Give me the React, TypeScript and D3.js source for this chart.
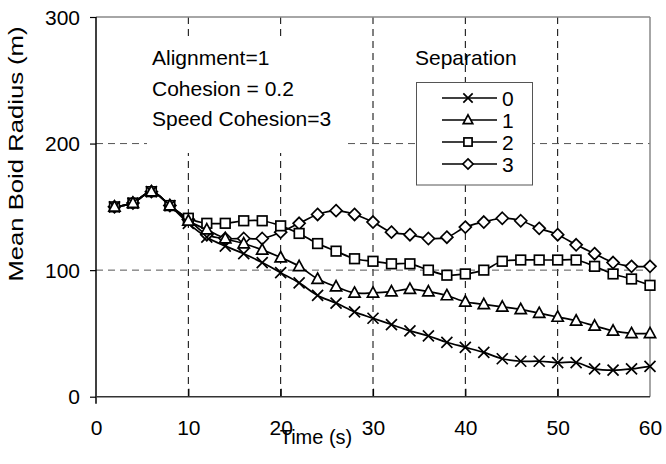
import React, { useEffect, useRef } from 'react'
import * as d3 from 'd3'

// time steps (s)
const time = [2, 4, 6, 8, 10, 12, 14, 16, 18, 20, 22, 24, 26, 28, 30, 32, 34, 36, 38, 40, 42, 44, 46, 48, 50, 52, 54, 56, 58, 60]
// mean boid radius (m) for each separation value
const sep0 = [150, 153, 162, 151, 137, 126, 119, 113, 106, 98, 90, 80, 74, 67, 62, 57, 52, 48, 43, 39, 35, 30, 28, 28, 27, 27, 22, 21, 22, 24]
const sep1 = [150, 153, 162, 151, 139, 132, 125, 121, 116, 110, 103, 93, 87, 82, 82, 83, 85, 83, 80, 75, 73, 71, 69, 66, 63, 60, 56, 52, 50, 50]
const sep2 = [150, 153, 162, 151, 141, 137, 137, 139, 139, 135, 129, 121, 115, 109, 107, 105, 105, 100, 96, 97, 100, 107, 108, 108, 108, 108, 103, 97, 93, 88]
const sep3 = [150, 153, 162, 151, 140, 128, 125, 125, 125, 130, 137, 144, 147, 144, 138, 130, 128, 125, 126, 134, 138, 141, 139, 133, 128, 120, 113, 106, 103, 103]

const seriesNames = ['0', '1', '2', '3']
const markerTypes = ['cross', 'triangle', 'square', 'diamond']
const xTicks = [0, 10, 20, 30, 40, 50, 60]
const yTicks = [0, 100, 200, 300]
const notes = ['Alignment=1', 'Cohesion = 0.2', 'Speed Cohesion=3']

const FONT = 'Arial, "Liberation Sans", sans-serif'

function drawMarker(g: any, type: string, cx: number, cy: number, k = 1) {
  const sw = 1.7
  if (type === 'cross') {
    const s = 5.5 * k
    g.append('path')
      .attr('d', `M${cx - s},${cy - s}L${cx + s},${cy + s}M${cx - s},${cy + s}L${cx + s},${cy - s}`)
      .attr('stroke', '#000').attr('stroke-width', sw).attr('fill', 'none')
    return
  }
  let el
  if (type === 'triangle') {
    el = g.append('path')
      .attr('d', `M${cx},${cy - 6 * k}L${cx + 5.6 * k},${cy + 4.3 * k}L${cx - 5.6 * k},${cy + 4.3 * k}Z`)
  } else if (type === 'square') {
    const s = 4.8 * k
    el = g.append('rect').attr('x', cx - s).attr('y', cy - s).attr('width', 2 * s).attr('height', 2 * s)
  } else {
    const s = 6 * k
    el = g.append('path')
      .attr('d', `M${cx},${cy - s}L${cx + s},${cy}L${cx},${cy + s}L${cx - s},${cy}Z`)
  }
  el.attr('stroke', '#000').attr('stroke-width', sw).attr('fill', '#fff')
}

export default function App() {
  const ref = useRef<SVGSVGElement>(null)

  useEffect(() => {
    const svg = d3.select(ref.current)
    svg.selectAll('*').remove()

    const x = d3.scaleLinear().domain([0, 60]).range([96, 650])
    const y = d3.scaleLinear().domain([0, 300]).range([396.7, 17])

    // gridlines
    svg.append('g').selectAll('line')
      .data([10, 20, 30, 40, 50])
      .enter().append('line')
      .attr('x1', d => x(d)).attr('x2', d => x(d))
      .attr('y1', y(300)).attr('y2', y(0))
      .attr('stroke', '#000').attr('stroke-width', 1).attr('stroke-dasharray', '7,5')
    svg.append('g').selectAll('line')
      .data([100, 200])
      .enter().append('line')
      .attr('x1', x(0)).attr('x2', x(60))
      .attr('y1', d => y(d)).attr('y2', d => y(d))
      .attr('stroke', '#555').attr('stroke-width', 1).attr('stroke-dasharray', '7,5')

    // frame: gray top/right, black axes
    svg.append('line').attr('x1', x(0)).attr('x2', x(60)).attr('y1', y(300)).attr('y2', y(300))
      .attr('stroke', '#888').attr('stroke-width', 1.5)
    svg.append('line').attr('x1', x(60)).attr('x2', x(60)).attr('y1', y(300)).attr('y2', y(0))
      .attr('stroke', '#888').attr('stroke-width', 1.5)

    // y axis
    const gy = svg.append('g')
      .attr('transform', `translate(${x(0)},0)`)
      .call(d3.axisLeft(y).tickValues(yTicks).tickSize(6).tickPadding(10).tickFormat(d3.format('d')))
    gy.select('.domain').remove()
    gy.selectAll('line').attr('stroke', '#000').attr('stroke-width', 1.2)
    gy.selectAll('text').attr('font-family', FONT).attr('font-size', 21).attr('fill', '#000').attr('dy', '0.34em')

    // x axis
    const gx = svg.append('g')
      .attr('transform', `translate(0,${y(0)})`)
      .call(d3.axisBottom(x).tickValues(xTicks).tickSize(-8).tickPadding(23).tickFormat(d3.format('d')))
    gx.select('.domain').remove()
    gx.selectAll('.tick').filter((d: any) => d === 0 || d === 60).select('line').remove()
    gx.selectAll('line').attr('stroke', '#000').attr('stroke-width', 1.2)
    gx.selectAll('text').attr('font-family', FONT).attr('font-size', 21).attr('fill', '#000')

    svg.append('line').attr('x1', x(0)).attr('x2', x(0)).attr('y1', y(300)).attr('y2', y(0) + 7)
      .attr('stroke', '#000').attr('stroke-width', 1.5)
    svg.append('line').attr('x1', x(0)).attr('x2', x(60)).attr('y1', y(0)).attr('y2', y(0))
      .attr('stroke', '#333').attr('stroke-width', 1.5)

    // axis titles
    svg.append('text')
      .attr('x', 316).attr('y', 444)
      .attr('text-anchor', 'middle')
      .attr('font-family', FONT).attr('font-size', 20)
      .text('Time (s)')
    svg.append('text')
      .attr('transform', 'translate(23,154) rotate(-90)')
      .attr('text-anchor', 'middle')
      .attr('font-family', FONT).attr('font-size', 20)
      .attr('textLength', 255).attr('lengthAdjust', 'spacingAndGlyphs')
      .text('Mean Boid Radius (m)')

    // notes text box
    svg.append('rect').attr('x', 147).attr('y', 38).attr('width', 198).attr('height', 115).attr('fill', '#fff')
    svg.append('g').selectAll('text')
      .data(notes)
      .enter().append('text')
      .attr('x', 152).attr('y', (d, i) => 65 + i * 30.5)
      .attr('font-family', FONT).attr('font-size', 21)
      .text(d => d)

    // series
    const all = [sep0, sep1, sep2, sep3]
    const line = d3.line<number>()
      .x((d, i) => x(time[i]))
      .y(d => y(d))
      .curve(d3.curveCatmullRom.alpha(0.5))
    all.forEach(vals => {
      svg.append('path')
        .attr('d', line(vals))
        .attr('fill', 'none').attr('stroke', '#000').attr('stroke-width', 1.7)
    })
    const order = [3, 2, 0, 1]
    order.forEach(si => {
      const g = svg.append('g')
      all[si].forEach((v, i) => drawMarker(g, markerTypes[si], x(time[i]), y(v)))
    })

    // legend
    svg.append('text')
      .attr('x', 415).attr('y', 65)
      .attr('font-family', FONT).attr('font-size', 21)
      .text('Separation')
    svg.append('rect')
      .attr('x', 416.5).attr('y', 82.5).attr('width', 116).attr('height', 102.5)
      .attr('fill', '#fff').attr('stroke', '#555').attr('stroke-width', 1)
    seriesNames.forEach((name, i) => {
      const cy = 98 + i * 22
      const g = svg.append('g')
      g.append('line').attr('x1', 442).attr('x2', 497).attr('y1', cy).attr('y2', cy)
        .attr('stroke', '#000').attr('stroke-width', 1.5)
      drawMarker(g, markerTypes[i], 468, cy, 0.85)
      g.append('text').attr('x', 502).attr('y', cy + 7.5)
        .attr('font-family', FONT).attr('font-size', 21)
        .text(name)
    })
  }, [])

  return (
    <svg ref={ref} width={666} height={464}
      style={{ position: 'absolute', left: 0, top: 0, background: '#fff' }} />
  )
}
